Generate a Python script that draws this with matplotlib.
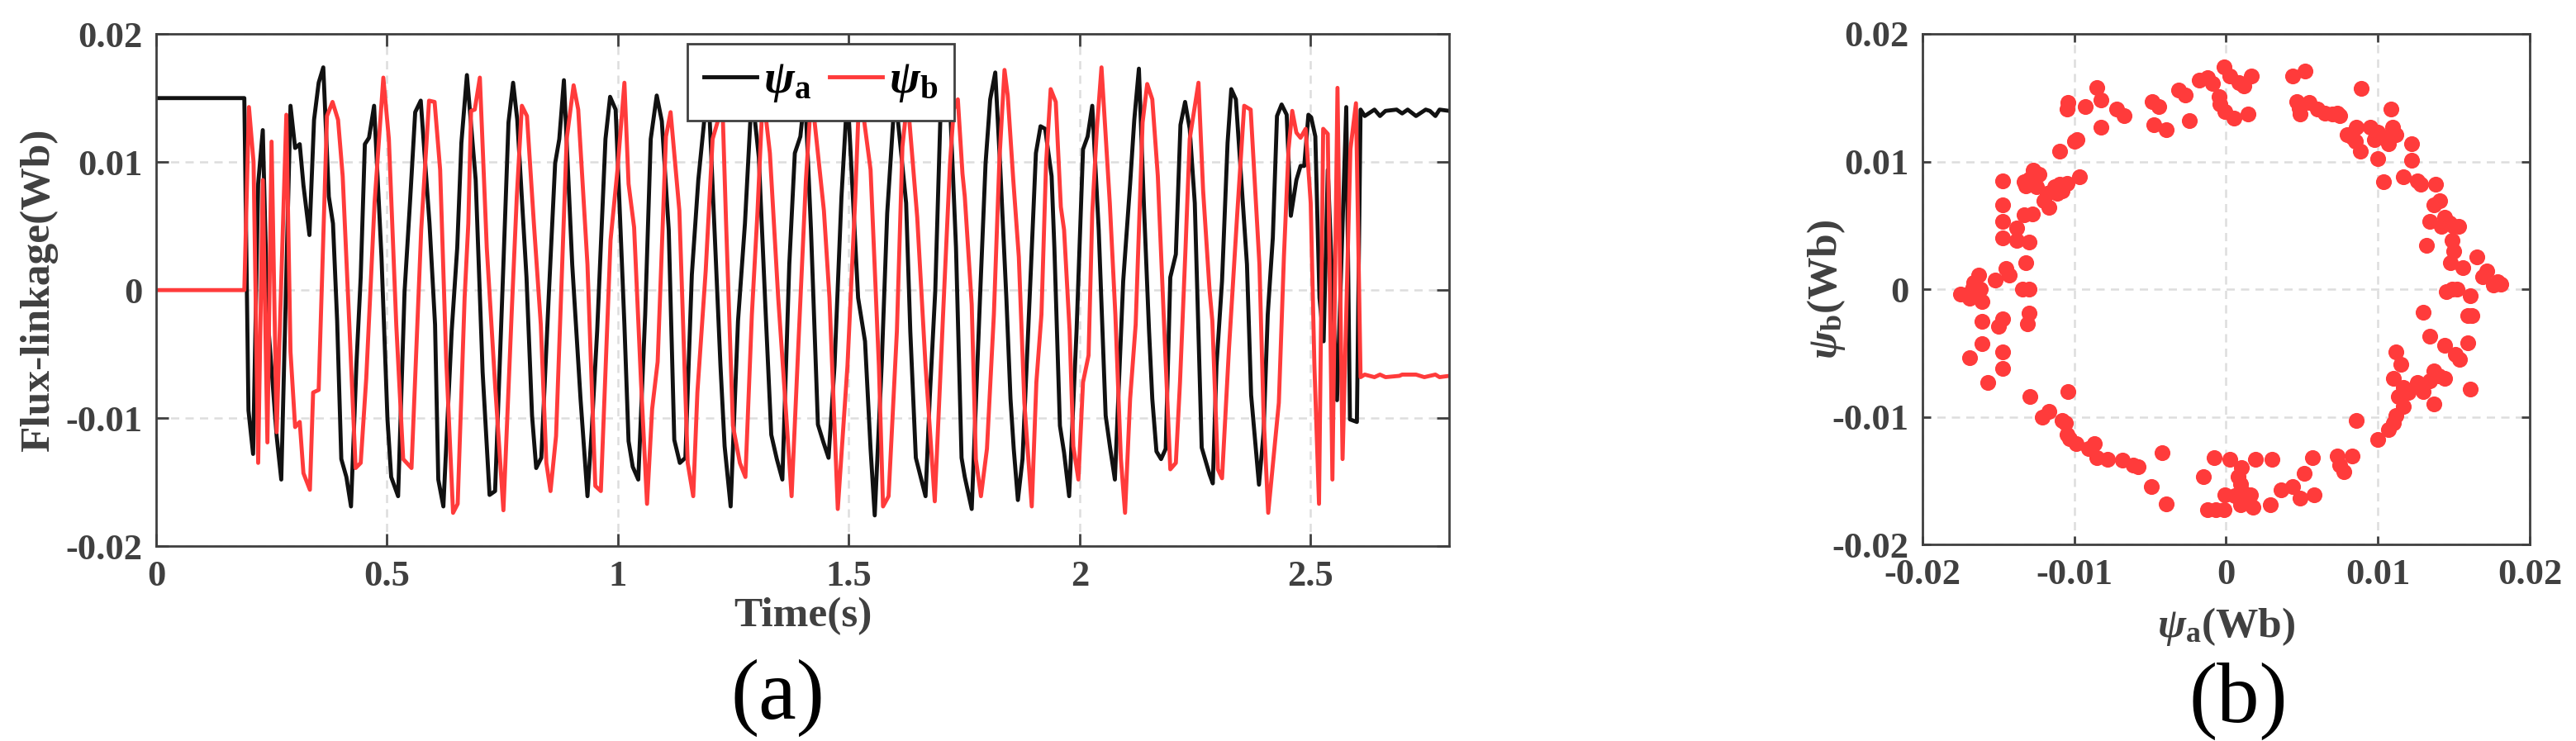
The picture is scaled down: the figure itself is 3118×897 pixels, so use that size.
import numpy as np
import matplotlib
matplotlib.use("Agg")
import matplotlib.pyplot as plt

# flux-linkage plots: (a) time traces, (b) psi_a vs psi_b
# values, in units of 1e-3 Wb

t_a = [0, 0.191, 0.200, 0.210, 0.221, 0.231, 0.241, 0.261, 0.271, 0.291, 0.301, 0.311, 0.319, 0.332,
       0.342, 0.352, 0.362, 0.374, 0.383, 0.392, 0.401, 0.412, 0.422, 0.434, 0.443, 0.452, 0.461, 0.472,
       0.488, 0.501, 0.509, 0.524, 0.538, 0.550, 0.561, 0.573, 0.592, 0.604, 0.611, 0.622, 0.640, 0.652,
       0.661, 0.673, 0.692, 0.707, 0.722, 0.734, 0.752, 0.763, 0.773, 0.782, 0.802, 0.814, 0.823, 0.834,
       0.850, 0.864, 0.873, 0.883, 0.901, 0.919, 0.934, 0.943, 0.955, 0.973, 0.983, 0.995, 1.014, 1.023,
       1.032, 1.044, 1.059, 1.071, 1.084, 1.095, 1.110, 1.122, 1.134, 1.146, 1.160, 1.174, 1.187, 1.196,
       1.222, 1.231, 1.244, 1.260, 1.275, 1.290, 1.305, 1.320, 1.332, 1.344, 1.356, 1.371, 1.383, 1.395,
       1.405, 1.418, 1.433, 1.445, 1.456, 1.469, 1.484, 1.497, 1.520, 1.535, 1.547, 1.556, 1.571, 1.583,
       1.600, 1.624, 1.633, 1.645, 1.666, 1.675, 1.687, 1.698, 1.707, 1.719, 1.732, 1.744, 1.751, 1.766,
       1.784, 1.796, 1.806, 1.817, 1.828, 1.841, 1.850, 1.857, 1.866, 1.876, 1.894, 1.905, 1.915, 1.925,
       1.939, 1.945, 1.957, 1.966, 1.977, 1.993, 2.007, 2.017, 2.027, 2.041, 2.056, 2.066, 2.076, 2.094,
       2.109, 2.118, 2.128, 2.139, 2.150, 2.157, 2.166, 2.176, 2.186, 2.196, 2.208, 2.218, 2.228, 2.238,
       2.249, 2.264, 2.281, 2.288, 2.296, 2.308, 2.320, 2.328, 2.338, 2.353, 2.362, 2.371, 2.380, 2.388,
       2.398, 2.407, 2.418, 2.427, 2.437, 2.448, 2.457, 2.469, 2.478, 2.486, 2.495, 2.501, 2.510, 2.519,
       2.528, 2.537, 2.557, 2.577, 2.585, 2.600, 2.608, 2.617, 2.638, 2.650, 2.662, 2.686, 2.698, 2.710,
       2.728, 2.749, 2.758, 2.770, 2.779, 2.800]
psi_a = [15.0, 15.0, -9.4, -12.8, 8.3, 12.5, -1.9, -11.4, -14.8, 14.4, 11.1, 11.4, 8.2, 4.3,
         13.3, 16.2, 17.4, 7.3, 5.2, -2.4, -13.2, -14.6, -16.9, -5.6, 1.0, 11.4, 11.9, 14.4,
         2.6, -10.1, -14.6, -16.1, -0.1, 7.0, 13.9, 14.8, 5.2, -2.7, -14.8, -16.9, -3.2, 3.3,
         11.5, 16.8, 8.6, -6.4, -16.0, -15.7, 2.0, 13.1, 16.2, 13.3, 1.0, -9.8, -13.9, -13.1,
         -0.6, 9.9, 11.8, 16.4, 2.0, -8.5, -16.1, -11.1, -3.2, 11.8, 15.1, 14.1, -2.7, -11.8,
         -13.8, -14.8, -1.9, 11.8, 15.2, 13.2, 4.7, -11.7, -13.5, -13.1, 1.2, 8.6, 13.3, 15.5,
         -5.9, -12.2, -16.9, -2.4, 5.2, 15.5, 10.4, -1.9, -11.3, -13.2, -14.8, 2.0, 10.7, 12.0,
         15.5, 4.7, -10.5, -11.9, -13.1, -5.9, 7.3, 15.5, -0.6, -4.0, -12.4, -17.6, -5.9, 6.0,
         15.5, 6.8, -3.2, -13.1, -16.1, -8.5, -0.1, 13.3, 15.8, 14.5, 3.3, -13.1, -14.6, -17.1,
         -0.6, 9.9, 14.9, 17.0, 9.4, -0.6, -8.5, -12.4, -16.4, -13.2, 1.5, 10.7, 12.8, 12.6,
         8.9, 3.3, -10.6, -12.7, -16.1, -3.2, 11.0, 12.0, 14.4, 4.7, -9.8, -12.4, -14.8, 0.7,
         8.3, 13.3, 17.3, 6.5, -3.2, -8.5, -12.6, -13.2, -12.4, 1.0, 2.8, 12.9, 14.7, 12.6,
         6.8, -12.3, -14.4, -15.1, -5.9, 0.7, 11.5, 15.7, 14.9, 6.8, 2.0, -8.2, -11.9, -15.2,
         -11.1, -1.9, 4.1, 13.6, 14.5, 13.7, 5.8, 8.6, 9.7, 9.7, 13.7, 13.5, 12.0, -0.6,
         -4.0, 9.4, -8.6, 14.3, -10.1, -10.3, 14.1, 13.6, 14.1, 13.6, 14.0, 14.1, 13.8, 14.1,
         13.6, 14.1, 14.0, 13.6, 14.1, 14.0]

t_b = [0, 0.191, 0.201, 0.211, 0.221, 0.231, 0.241, 0.250, 0.261, 0.282, 0.291, 0.301, 0.311, 0.319,
       0.333, 0.340, 0.352, 0.370, 0.382, 0.394, 0.404, 0.419, 0.432, 0.443, 0.455, 0.473, 0.492, 0.504,
       0.520, 0.535, 0.553, 0.574, 0.591, 0.603, 0.615, 0.628, 0.643, 0.653, 0.668, 0.676, 0.682, 0.690,
       0.701, 0.716, 0.734, 0.752, 0.770, 0.781, 0.792, 0.803, 0.818, 0.833, 0.845, 0.854, 0.866, 0.889,
       0.904, 0.914, 0.934, 0.951, 0.963, 0.984, 0.999, 1.014, 1.023, 1.035, 1.050, 1.063, 1.074, 1.086,
       1.104, 1.114, 1.133, 1.151, 1.163, 1.172, 1.190, 1.205, 1.217, 1.226, 1.234, 1.249, 1.264, 1.276,
       1.290, 1.302, 1.314, 1.329, 1.347, 1.362, 1.376, 1.392, 1.407, 1.419, 1.446, 1.458, 1.476, 1.497,
       1.514, 1.523, 1.547, 1.565, 1.574, 1.586, 1.604, 1.616, 1.627, 1.648, 1.666, 1.686, 1.704, 1.719,
       1.727, 1.736, 1.746, 1.751, 1.766, 1.775, 1.786, 1.799, 1.814, 1.826, 1.837, 1.844, 1.856, 1.868,
       1.880, 1.896, 1.906, 1.917, 1.927, 1.937, 1.948, 1.959, 1.966, 1.978, 1.986, 1.997, 2.007, 2.019,
       2.027, 2.037, 2.047, 2.065, 2.077, 2.089, 2.098, 2.109, 2.121, 2.136, 2.146, 2.157, 2.169, 2.181,
       2.196, 2.208, 2.217, 2.229, 2.238, 2.257, 2.267, 2.281, 2.287, 2.299, 2.308, 2.323, 2.341, 2.356,
       2.370, 2.389, 2.398, 2.408, 2.431, 2.442, 2.452, 2.460, 2.469, 2.478, 2.489, 2.500, 2.508, 2.518,
       2.527, 2.537, 2.547, 2.558, 2.569, 2.586, 2.598, 2.608, 2.617, 2.638, 2.650, 2.662, 2.692, 2.698,
       2.728, 2.746, 2.770, 2.779, 2.800]
psi_b = [0, 0, 14.3, 10.0, -13.5, 8.6, -11.9, 11.6, -11.1, 13.7, -4.8, -10.7, -10.3, -14.3,
         -15.6, -8.0, -7.8, 13.6, 14.7, 13.3, 8.9, -3.2, -13.9, -13.5, -6.9, 6.8, 16.6, 11.8,
         -2.7, -13.2, -13.9, 4.7, 14.8, 14.7, 9.4, -5.3, -17.4, -16.7, -0.6, 5.2, 14.0, 14.1,
         16.6, 3.3, -7.4, -17.2, -1.7, 7.3, 14.4, 13.6, 5.2, -2.7, -13.5, -15.7, -11.4, 11.8,
         16.0, 14.1, 2.0, -15.3, -15.7, 3.9, 9.4, 16.2, 8.3, 4.9, -7.2, -16.7, -9.3, -5.6,
         12.0, 13.9, 6.2, -13.5, -16.1, -8.0, 1.5, 11.8, 13.3, 14.8, 5.4, -10.6, -13.5, -14.6,
         -1.9, 6.0, 15.5, 10.7, -0.6, -8.5, -16.1, -3.2, 8.6, 15.5, 6.2, -0.6, -17.1, -5.9,
         7.3, 16.0, 9.4, -5.9, -16.9, -16.1, -3.2, 11.2, 15.0, 5.7, -5.9, -16.5, -1.9, 9.9,
         14.1, 14.9, 9.1, 7.3, -1.1, -13.2, -16.1, -12.4, -1.9, 10.2, 17.2, 15.2, 8.6, 2.6,
         -8.8, -16.9, -7.2, -1.9, 9.9, 15.7, 14.7, 6.5, 4.7, -3.2, -12.2, -14.8, -7.2, -5.1,
         6.0, 12.6, 17.4, 6.8, -1.9, -13.2, -17.4, -8.5, -2.7, 13.1, 16.1, 14.9, 8.9, -1.4,
         -14.0, -13.5, -7.2, 3.3, 11.8, 16.2, 7.8, 0.0, -2.4, -14.0, -14.7, -4.6, 6.0, 14.4,
         14.1, 2.0, -9.8, -17.4, -8.8, 2.6, 11.0, 14.0, 12.3, 11.9, 12.6, 6.8, -5.9, -16.7,
         12.6, 12.2, -14.8, 15.8, -13.2, 11.0, 14.6, -6.8, -6.6, -6.8, -6.6, -6.8, -6.7, -6.6,
         -6.6, -6.8, -6.6, -6.8, -6.7]

# scatter points of panel (b), 1e-3 Wb
sc_a = [-1.75, -1.24, -0.9, -0.13, 0.27, 0.84, 1.2, 1.68, -0.47, -0.4, -0.07, 0.5, 1.44, 4.37, 5.2,
        -3.1, -2.7, -2.42, -4.84, -4.43, -4.77, -3.93, -7.19, -6.72, -8.54, -8.23, -8.26, -9.3, -10.4,
        -10.5, -10.0, -9.8, -10.95, -9.64, 4.64, 4.8, 4.9, 5.5, 6.0, 6.5, 7.0, 7.3, 7.5, 8.9, 10.85,
        8.0, 8.33, 8.6, 8.5, 8.83, 9.5, 9.8, 10.0, 10.4, 10.7, 10.95, 11.2, 10.0, 12.2, 12.2, 10.4, 11.7,
        12.6, 12.8, 13.8, 13.7, 14.1, 13.4, 14.4, 14.7, 15.0, 14.2, 13.2, 14.9, 15.0, 15.3, 14.8, 15.6,
        16.5, 14.5, 14.9, 15.2, 16.9, 17.2, 17.6, 17.9, 18.1, 16.1, 15.9, 16.2, 15.9, 13.0, 13.4, 14.4,
        15.1, 15.4, 11.2, 11.5, 13.7, 14.0, 13.4, 14.4, 12.6, 13.0, 13.7, 12.0, 11.7, 11.0, 16.1, 11.35,
        11.7, 11.2, 11.0, 10.7, 10.0, 8.6, 7.3, 7.5, 7.76, 8.3, 5.7, 5.14, 5.8, 4.9, 4.37, 3.6, 2.9,
        3.0, 1.95, 0.27, -0.8, 1.0, 0.77, 0.94, -0.07, 0.6, 1.1, 1.6, 0.94, 1.78, 1.28, -1.2, -0.67,
        -0.13, -1.48, -3.93, -4.94, -4.2, -5.8, -6.1, -6.85, -7.8, -8.5, -8.7, -9.07, -9.9, -10.3,
        -10.5, -10.6, -10.8, -11.66, -12.1, -10.4, -12.9, -14.7, -14.7, -15.7, -16.9, -16.1, -16.1,
        -15.0, -14.7, -13.1, -13.0, -16.1, -16.9, -17.0, -17.5, -16.7, -16.2, -16.3, -16.6, -15.2,
        -14.3, -14.5, -13.4, -13.0, -13.2, -14.7, -13.8, -13.0, -14.7, -14.7, -13.8, -13.3, -12.76,
        -14.7, -13.3, -13.0, -12.7, -12.3, -12.5, -13.2, -12.0, -11.66, -11.8, -11.3, -10.98, -10.5,
        -11.1, -10.8]
sc_b = [16.4, 16.6, 16.1, 17.4, 16.7, 16.2, 15.9, 16.7, 15.1, 14.5, 13.9, 13.4, 13.7, 16.7, 17.1,
        15.6, 15.2, 13.2, 14.7, 14.3, 12.9, 12.5, 14.1, 13.6, 15.8, 14.8, 12.7, 14.3, 14.6,
        14.1, 11.6, 11.7, 10.8, 8.8, 14.7, 14.2, 13.7, 14.6, 14.1, 13.8, 13.7, 13.8, 13.6, 15.7, 14.1,
        12.1, 11.9, 12.7, 11.6, 10.8, 12.7, 11.7, 12.3, 11.9, 11.4, 12.7, 12.1, 10.2, 11.4, 10.1, 8.4, 8.8,
        8.5, 8.2, 8.2, 6.6, 6.9, 5.3, 5.6, 5.2, 4.9, 4.9, 3.4, 3.8, 3.0, 4.9, 2.1, 1.7,
        2.5, -0.2, 0.0, 0.0, 1.0, 1.4, 0.3, 0.6, 0.4, -0.5, -2.1, -2.1, -4.2, -1.8, -3.7, -4.4,
        -5.1, -5.5, -4.9, -5.9, -6.4, -6.8, -7.2, -7.0, -7.3, -8.0, -9.0, -8.1, -7.7, -7.0, -7.8, -8.4,
        -9.2, -9.9, -10.5, -11.0, -11.8, -10.3, -13.1, -13.8, -14.3, -13.1, -13.2, -14.4, -16.1, -16.4, -15.5, -15.7, -16.9,
        -13.3, -13.3, -13.3, -13.2, -14.0, -14.7, -15.3, -16.1, -16.2, -15.9, -16.1, -16.9, -17.1, -16.6, -17.3, -17.3,
        -17.3, -14.7, -16.8, -15.5, -12.8, -13.9, -13.8, -13.4, -13.3, -13.2, -12.1, -12.5, -12.1, -11.7,
        -11.4, -10.5, -10.3, -9.6, -10.0, -8.0, -8.4, -6.2, -4.9, -7.3, -5.4, -4.3, -2.5,
        -2.9, -2.3, -2.7, -1.9, -1.0, -0.7, -0.4, -0.4, 0.1, 0.0, 1.1, 0.5, 0.7,
        1.1, 1.6, 0.0, 0.0, 2.1, 4.0, 3.8, 3.7, 5.3, 6.6, 4.8, 5.8, 5.9,
        8.5, 8.4, 8.6, 9.3, 9.0, 8.0, 8.1, 6.9, 6.4, 7.5, 8.0, 8.2, 8.3,
        7.5, 7.7]

t_ticks = [0, 0.5, 1, 1.5, 2, 2.5]
t_labels = ["0", "0.5", "1", "1.5", "2", "2.5"]
f_ticks = [-0.02, -0.01, 0, 0.01, 0.02]
f_labels = ["-0.02", "-0.01", "0", "0.01", "0.02"]

red = "#ff3b3b"
dark = "#404040"

plt.rcParams["font.family"] = "serif"
plt.rcParams["font.serif"] = ["Liberation Serif", "DejaVu Serif"]
plt.rcParams["font.weight"] = "bold"
plt.rcParams["axes.labelweight"] = "bold"
plt.rcParams["mathtext.fontset"] = "custom"
plt.rcParams["mathtext.it"] = "Liberation Serif:italic:bold"
plt.rcParams["mathtext.bf"] = "Liberation Serif:bold"
plt.rcParams["mathtext.rm"] = "Liberation Serif:bold"


def style_axes(ax, ticklen):
    for s in ax.spines.values():
        s.set_color(dark)
        s.set_linewidth(2)
    ax.tick_params(direction="in", top=True, right=True, length=ticklen, width=2,
                   colors=dark, labelsize=32, pad=12)
    ax.grid(True, color="#dddddd", linestyle=(0, (4, 3)), linewidth=1.8)
    ax.set_axisbelow(True)


fig = plt.figure(figsize=(31.18, 8.97), dpi=100)

# (a) time traces
ax1 = fig.add_axes([0.0606, 0.263, 0.502, 0.691])
ax1.plot(t_a, np.array(psi_a) * 1e-3, color="#111111", lw=3.5, label=r"$\psi_{\mathbf{a}}$")
ax1.plot(t_b, np.array(psi_b) * 1e-3, color=red, lw=3.5, label=r"$\psi_{\mathbf{b}}$")
ax1.set_xlim(0, 2.8)
ax1.set_ylim(-0.02, 0.02)
ax1.set_xticks(t_ticks)
ax1.set_xticklabels(t_labels)
ax1.set_yticks(f_ticks)
ax1.set_yticklabels(f_labels)
style_axes(ax1, 11)
ax1.set_xlabel("Time(s)", fontsize=37, color=dark)
ax1.xaxis.set_label_coords(0.5, -0.1)
ax1.set_ylabel("Flux-linkage(Wb)", fontsize=37, color=dark)
ax1.yaxis.set_label_coords(-0.076, 0.5)
leg = ax1.legend(loc="upper left", bbox_to_anchor=(0.411, 0.981), ncol=2, fontsize=40,
                 handlelength=1.15, handletextpad=0.15, columnspacing=0.4, borderpad=0.35,
                 borderaxespad=0, fancybox=False, framealpha=1)
leg.get_frame().set_edgecolor(dark)
leg.get_frame().set_linewidth(2)

# (b) psi_a vs psi_b
ax2 = fig.add_axes([0.7463, 0.2653, 0.2357, 0.689])
ax2.scatter(np.array(sc_a) * 1e-3, np.array(sc_b) * 1e-3, s=190, color=red, linewidths=0, zorder=3)
ax2.set_xlim(-0.02, 0.02)
ax2.set_ylim(-0.02, 0.02)
ax2.set_xticks(f_ticks)
ax2.set_xticklabels(f_labels)
ax2.set_yticks(f_ticks)
ax2.set_yticklabels(f_labels)
style_axes(ax2, 7)
ax2.set_xlabel(r"$\psi_{\mathbf{a}}$(Wb)", fontsize=37, color=dark)
ax2.xaxis.set_label_coords(0.5, -0.12)
ax2.set_ylabel(r"$\psi_{\mathbf{b}}$(Wb)", fontsize=37, color=dark)
ax2.yaxis.set_label_coords(-0.124, 0.5)

fig.text(0.302, 0.058, "(a)", fontsize=74, fontweight="normal", ha="center", va="center")
fig.text(0.869, 0.054, "(b)", fontsize=74, fontweight="normal", ha="center", va="center")

fig.savefig("out.png", dpi=100)
